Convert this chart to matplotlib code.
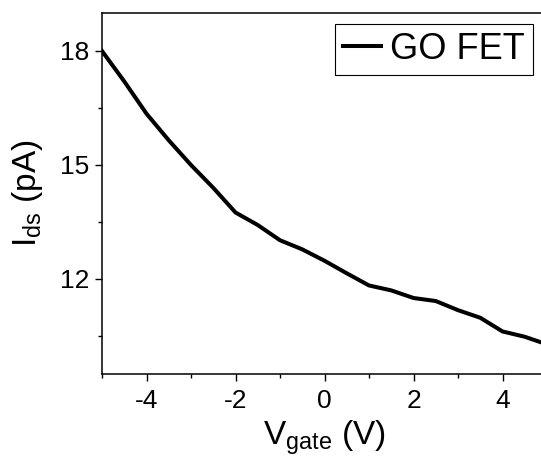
import numpy as np
import matplotlib.pyplot as plt
from matplotlib.ticker import MultipleLocator

plt.rcParams['font.family'] = ['Liberation Sans', 'DejaVu Sans']
plt.rcParams['mathtext.fontset'] = 'custom'
plt.rcParams['mathtext.rm'] = 'Liberation Sans'
plt.rcParams['mathtext.it'] = 'Liberation Sans'
plt.rcParams['axes.unicode_minus'] = False

v_gate = [-5, -4.5, -4, -3.5, -3, -2.5, -2, -1.5, -1, -0.5, 0,
          0.5, 1, 1.5, 2, 2.5, 3, 3.5, 4, 4.5, 5]
i_ds = [18.0, 17.2, 16.35, 15.65, 15.0, 14.4, 13.75, 13.42, 13.02, 12.78, 12.48,
        12.15, 11.83, 11.70, 11.50, 11.42, 11.18, 10.98, 10.62, 10.48, 10.28]

fig = plt.figure(figsize=(5.41, 4.57), dpi=100)
ax = fig.add_axes([102/541, 83/457, 445/541, 361/457])

ax.plot(v_gate, i_ds, color='black', lw=2.9, label='GO FET')

ax.set_xlim(-5, 5)
ax.set_ylim(9.5, 19)
ax.xaxis.set_major_locator(MultipleLocator(2))
ax.xaxis.set_minor_locator(MultipleLocator(1))
ax.yaxis.set_major_locator(MultipleLocator(3))
ax.yaxis.set_minor_locator(MultipleLocator(1.5))
ax.tick_params(which='major', direction='out', length=5, width=1, labelsize=19,
               top=False, right=False)
ax.tick_params(axis='x', which='major', pad=6)
ax.tick_params(axis='y', which='major', pad=4)
ax.tick_params(which='minor', direction='out', length=3, width=1,
               top=False, right=False)
for s in ax.spines.values():
    s.set_linewidth(1.1)

ax.set_xlabel(r'V$_{\mathregular{gate}}$ (V)', fontsize=24, labelpad=4)
ax.set_ylabel(r'I$_{\mathregular{ds}}$ (pA)', fontsize=24, labelpad=11)

leg = ax.legend(loc='upper right', fontsize=26, handlelength=1.05,
                handletextpad=0.25, borderpad=0.22, borderaxespad=0,
                fancybox=False, edgecolor='black', framealpha=1)
leg.get_frame().set_linewidth(0.8)
leg.set_bbox_to_anchor((533/541, (457-24)/457), transform=fig.transFigure)

fig.savefig('out.png', dpi=100)
